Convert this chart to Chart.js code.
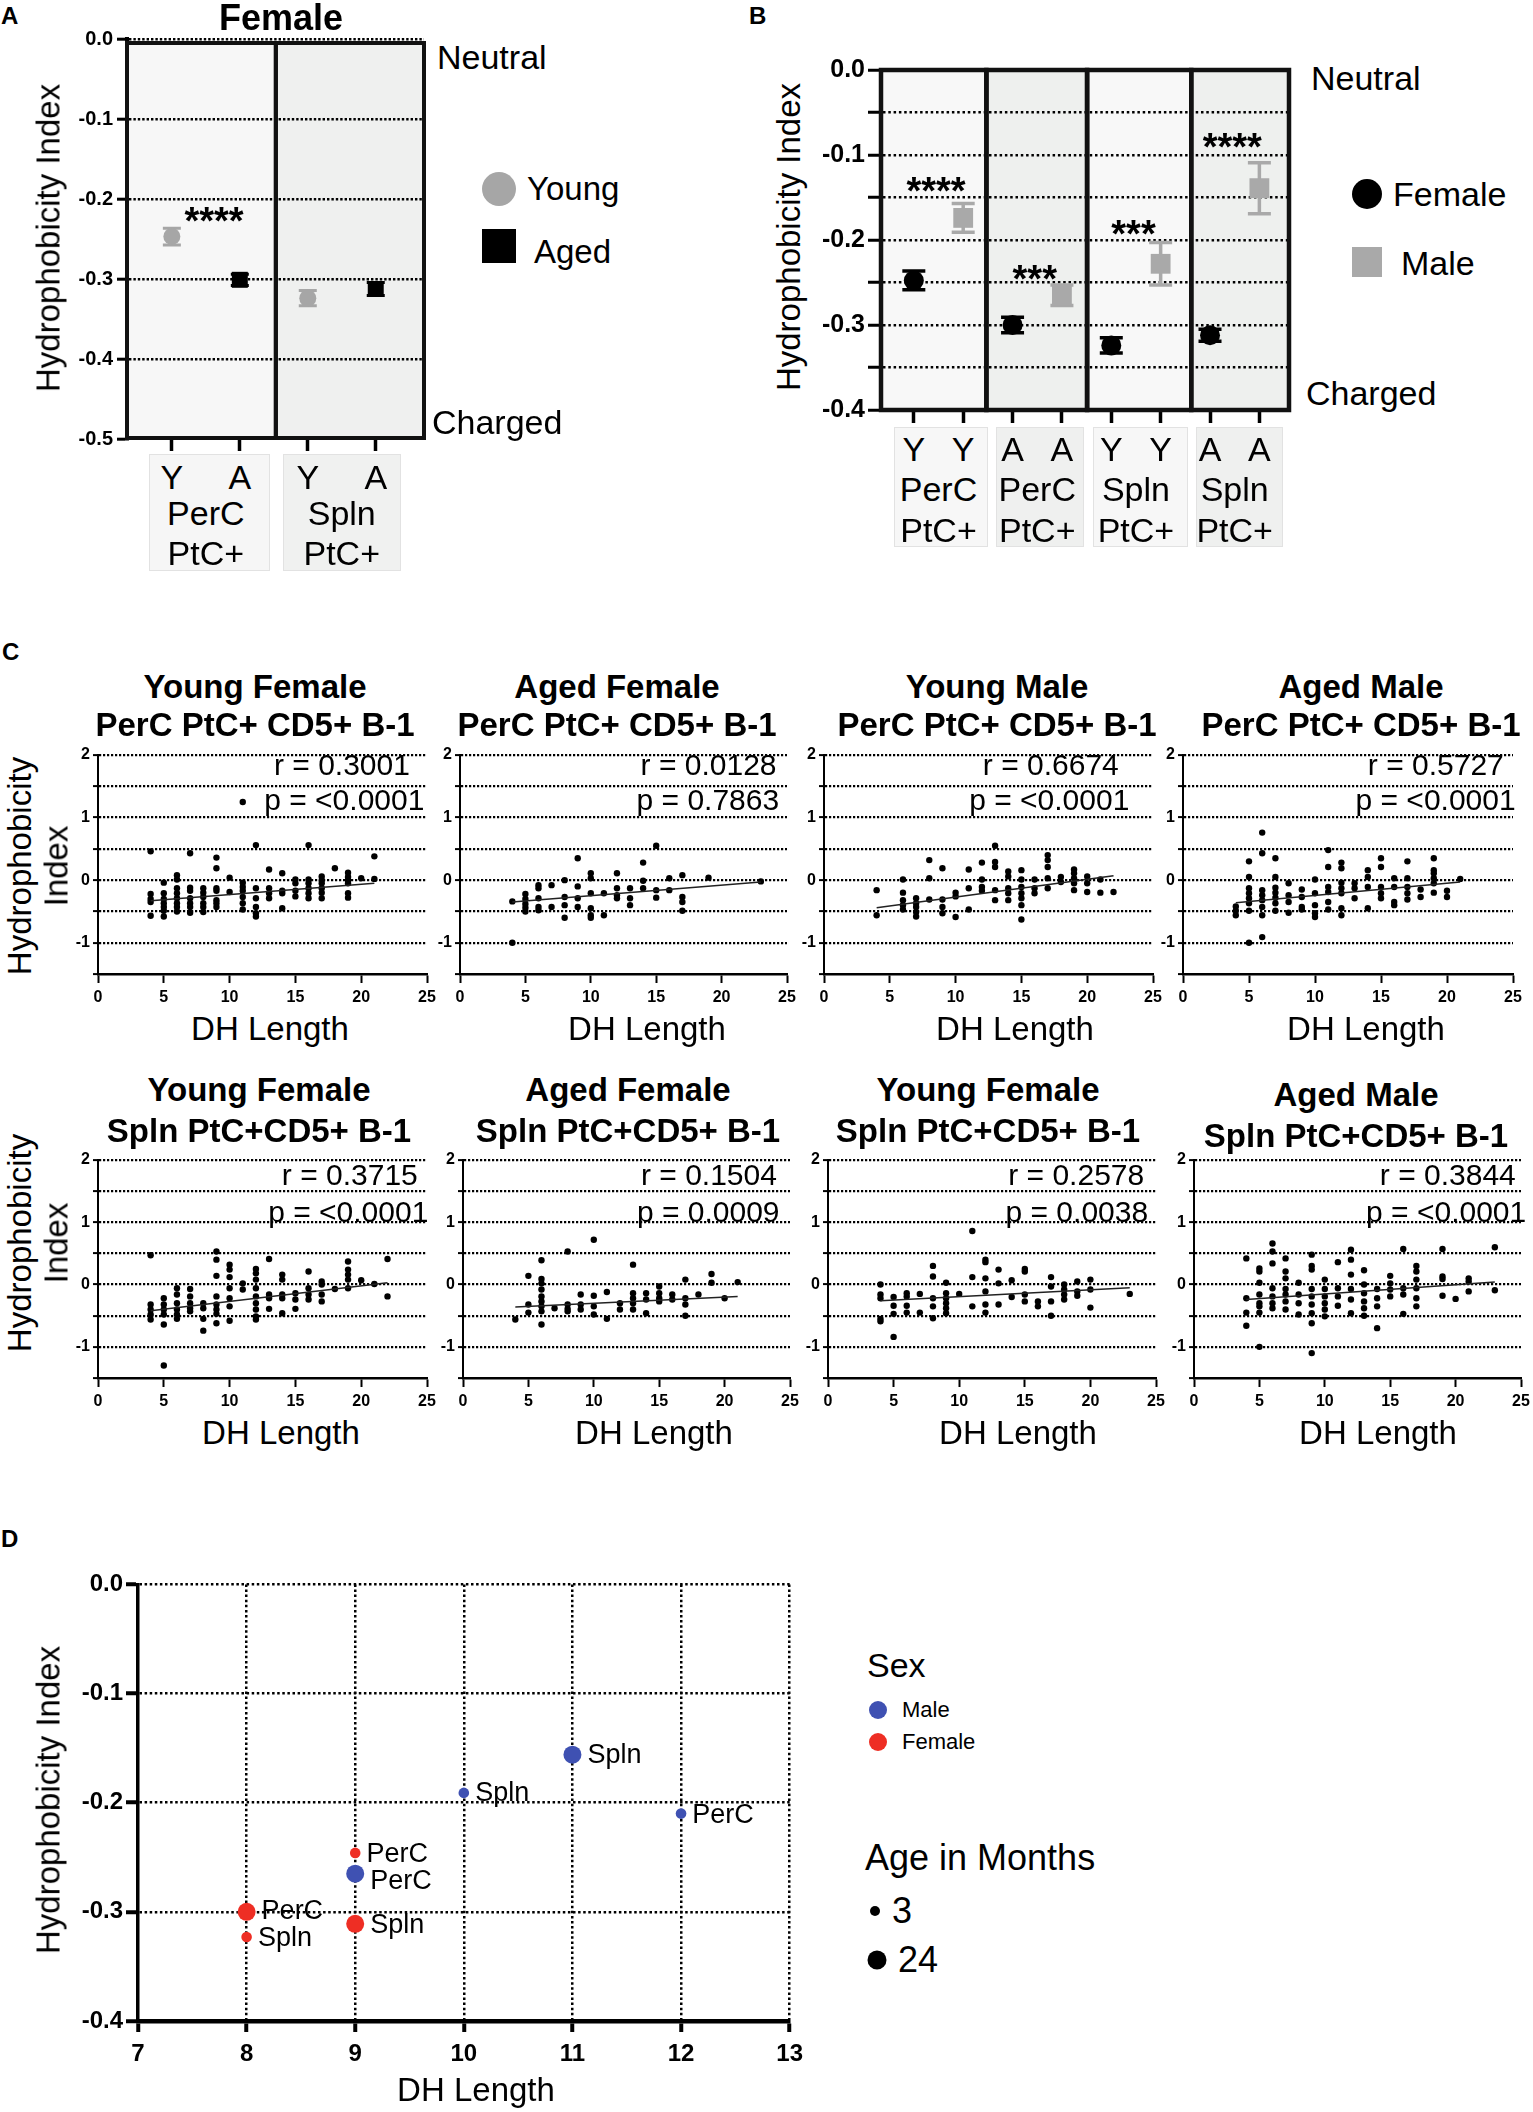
<!DOCTYPE html>
<html>
<head>
<meta charset="utf-8">
<title>Hydrophobicity index of DH regions</title>
<script src="https://cdn.jsdelivr.net/npm/chart.js@4.4.1/dist/chart.umd.min.js"></script>
<style>
  html, body { margin: 0; padding: 0; background: #fff; }
  #fig { position: relative; width: 1533px; height: 2112px; overflow: hidden;
         font-family: 'Liberation Sans', Arial, Helvetica, sans-serif; color: #000; }
  #fig canvas { position: absolute; }
  .t { position: absolute; white-space: nowrap; line-height: 1; }
  .lbox { position: absolute; box-sizing: border-box; border: 1px solid #e2e2e2; }
  .mark { position: absolute; transform: translate(-50%, -50%); }
</style>
</head>
<body>
<div id="fig"></div>
<script>
// ---------- Panel A: female, young vs aged ----------
const aTissues = ['PerC', 'Spln'];
const aYoung = [-0.247, -0.324];
const aYoungErr = [0.0105, 0.0095];
const aAged = [-0.301, -0.3125];
const aAgedErr = [0.007, 0.008];
const aStars = ['****'];
const aStarLevel = [-0.217];

// ---------- Panel B: female vs male ----------
const bAges = ['Y', 'A', 'Y', 'A'];
const bTissues = ['PerC', 'PerC', 'Spln', 'Spln'];
const bFemale = [-0.2476, -0.300, -0.324, -0.312];
const bFemaleErr = [0.011, 0.009, 0.009, 0.007];
const bMale = [-0.174, -0.265, -0.228, -0.139];
const bMaleErr = [0.017, 0.012, 0.025, 0.030];
const bStars = ['****', '***', '***', '****'];
const bStarLevel = [-0.133, -0.236, -0.184, -0.081];

// ---------- Panel C: hydrophobicity vs DH length, listed by DH length ----------
const cTitles = [
  ['Young Female', 'PerC PtC+ CD5+ B-1'], ['Aged Female', 'PerC PtC+ CD5+ B-1'],
  ['Young Male', 'PerC PtC+ CD5+ B-1'], ['Aged Male', 'PerC PtC+ CD5+ B-1'],
  ['Young Female', 'Spln PtC+CD5+ B-1'], ['Aged Female', 'Spln PtC+CD5+ B-1'],
  ['Young Female', 'Spln PtC+CD5+ B-1'], ['Aged Male', 'Spln PtC+CD5+ B-1']
];
const cR = ['0.3001', '0.0128', '0.6674', '0.5727', '0.3715', '0.1504', '0.2578', '0.3844'];
const cP = ['<0.0001', '0.7863', '<0.0001', '<0.0001', '<0.0001', '0.0009', '0.0038', '<0.0001'];
const cFitX = [[4, 21], [4, 23], [4, 22], [4, 21], [4, 22], [4, 21], [4, 23], [4, 23]];
const cFitY = [[-0.33, -0.05], [-0.35, -0.03], [-0.44, 0.07], [-0.36, -0.03],
               [-0.42, 0.03], [-0.36, -0.19], [-0.26, -0.05], [-0.24, 0.04]];

const youngFemalePerC = {
  4: [0.46, -0.22, -0.30, -0.35, -0.57], 5: [-0.04, -0.21, -0.30, -0.37, -0.43, -0.49, -0.58],
  6: [0.08, 0.01, -0.13, -0.21, -0.29, -0.37, -0.43, -0.50], 7: [0.43, -0.12, -0.17, -0.29, -0.37, -0.43, -0.52],
  8: [-0.13, -0.20, -0.27, -0.37, -0.43, -0.51], 9: [0.36, 0.19, -0.13, -0.17, -0.32, -0.37, -0.43],
  10: [0.04, -0.19], 11: [1.25, -0.04, -0.11, -0.17, -0.27, -0.37, -0.47],
  12: [0.56, -0.13, -0.29, -0.43, -0.53, -0.58], 13: [0.17, -0.13, -0.21, -0.29],
  14: [0.11, -0.17, -0.21, -0.45], 15: [0.01, -0.05, -0.17, -0.26],
  16: [0.56, 0.01, -0.05, -0.13, -0.21, -0.29], 17: [0.06, 0.0, -0.05, -0.13, -0.20, -0.29],
  18: [0.19], 19: [0.12, 0.05, 0.0, -0.05, -0.21, -0.28], 20: [0.03], 21: [0.38, 0.02]
};
const agedFemalePerC = {
  4: [-0.34, -1.0], 5: [-0.22, -0.30, -0.38, -0.44, -0.50], 6: [-0.08, -0.13, -0.29, -0.43, -0.48],
  7: [-0.08, -0.43], 8: [0.0, -0.27, -0.40, -0.60], 9: [0.35, -0.10, -0.29, -0.43],
  10: [0.11, 0.03, -0.21, -0.45, -0.56, -0.60], 11: [-0.21, -0.56], 12: [0.11, -0.13, -0.24, -0.29],
  13: [-0.13, -0.29, -0.40], 14: [0.28, -0.01, -0.13], 15: [0.55, -0.16, -0.28], 16: [0.03, -0.16],
  17: [0.08, -0.27, -0.35, -0.49], 19: [0.04], 23: [-0.02]
};
const youngMalePerC = {
  4: [-0.16, -0.56], 6: [0.01, -0.20, -0.32, -0.40, -0.47], 7: [-0.29, -0.37, -0.43, -0.51, -0.58],
  8: [0.32, 0.03, -0.31], 9: [0.19, -0.31, -0.43, -0.53], 10: [-0.20, -0.26, -0.59],
  11: [0.17, -0.13, -0.47], 12: [0.28, 0.01, -0.11, -0.17], 13: [0.55, 0.29, 0.21, -0.16, -0.32],
  14: [0.14, 0.06, -0.13, -0.21, -0.32], 15: [0.16, 0.01, -0.11, -0.21, -0.29, -0.40, -0.63],
  16: [0.01, -0.13, -0.21], 17: [0.40, 0.32, 0.21, 0.03, -0.13], 18: [0.05, -0.03],
  19: [0.17, 0.11, 0.03, -0.05, -0.16], 20: [0.06, -0.05, -0.19], 21: [0.01, -0.20], 22: [-0.19]
};
const agedMalePerC = {
  4: [-0.42, -0.49, -0.56], 5: [0.30, 0.05, -0.13, -0.21, -0.29, -0.37, -0.49, -1.0],
  6: [0.76, 0.43, -0.16, -0.24, -0.32, -0.43, -0.56, -0.91], 7: [0.35, 0.05, -0.12, -0.20, -0.28, -0.37, -0.49],
  8: [-0.05, -0.24, -0.35, -0.52], 9: [-0.15, -0.27, -0.43, -0.47], 10: [0.01, -0.21, -0.40, -0.53, -0.59],
  11: [0.48, 0.21, -0.11, -0.19, -0.35, -0.47], 12: [0.28, 0.19, -0.04, -0.13, -0.21, -0.45, -0.56],
  13: [-0.05, -0.13, -0.29], 14: [0.16, 0.05, -0.11, -0.45], 15: [0.35, 0.21, -0.11, -0.21, -0.29],
  16: [0.03, -0.11, -0.35, -0.40], 17: [0.30, 0.03, -0.11, -0.21, -0.31], 18: [-0.15, -0.27],
  19: [0.35, 0.16, 0.11, 0.03, -0.05, -0.20], 20: [-0.17, -0.27], 21: [0.02]
};
const youngFemaleSpln = {
  4: [0.47, -0.32, -0.40, -0.48, -0.56], 5: [-0.22, -0.32, -0.40, -0.48, -0.64, -1.30],
  6: [-0.06, -0.16, -0.30, -0.40, -0.48, -0.55], 7: [-0.07, -0.19, -0.30, -0.38, -0.43],
  8: [-0.30, -0.38, -0.55, -0.74], 9: [0.53, 0.40, 0.14, -0.19, -0.32, -0.40, -0.47, -0.62],
  10: [0.32, 0.24, 0.12, -0.06, -0.22, -0.35, -0.58], 11: [0.02, -0.08],
  12: [0.25, 0.18, 0.08, -0.06, -0.19, -0.30, -0.40, -0.51, -0.56], 13: [0.41, -0.16, -0.22, -0.39],
  14: [0.16, 0.08, -0.16, -0.22, -0.46], 15: [-0.14, -0.24, -0.39], 16: [0.21, -0.06, -0.16, -0.24],
  17: [0.05, 0.0, -0.16, -0.27], 18: [-0.07], 19: [0.37, 0.24, 0.16, 0.08, -0.06],
  20: [0.07], 21: [0.01], 22: [0.41, -0.19]
};
const agedFemaleSpln = {
  4: [-0.56], 5: [0.14, -0.32, -0.45], 6: [0.39, 0.09, 0.02, -0.08, -0.19, -0.27, -0.35, -0.43, -0.64],
  7: [-0.38], 8: [0.53, -0.32, -0.39, -0.43], 9: [-0.16, -0.32, -0.40], 10: [0.72, -0.18, -0.35, -0.48],
  11: [-0.12, -0.55], 12: [-0.30, -0.40], 13: [0.32, -0.14, -0.22, -0.30, -0.40],
  14: [-0.14, -0.24, -0.46], 15: [-0.03, -0.14, -0.22, -0.27], 16: [-0.16, -0.24],
  17: [0.08, -0.22, -0.32, -0.50], 18: [-0.16], 19: [0.17, 0.03], 20: [-0.22], 21: [0.04]
};
const youngFemaleSpln2 = {
  4: [0.0, -0.16, -0.22, -0.55, -0.59], 5: [-0.20, -0.34, -0.47, -0.84], 6: [-0.14, -0.19, -0.34, -0.45],
  7: [-0.15, -0.45], 8: [0.30, 0.13, -0.22, -0.35, -0.54], 9: [0.03, -0.14, -0.22, -0.30, -0.38, -0.46],
  10: [-0.15], 11: [0.86, 0.12, -0.35], 12: [0.40, 0.36, 0.10, -0.11, -0.32, -0.45],
  13: [0.24, 0.02, -0.32], 14: [0.07, -0.20], 15: [0.25, 0.21, -0.16, -0.27], 16: [-0.27, -0.35],
  17: [0.12, -0.03, -0.27, -0.50], 18: [0.0, -0.08, -0.16, -0.24], 19: [0.05, -0.11, -0.18],
  20: [0.08, -0.08, -0.37], 23: [-0.15]
};
const agedMaleSpln = {
  4: [0.42, -0.22, -0.45, -0.66], 5: [0.26, 0.21, 0.03, -0.16, -0.30, -0.35, -0.45, -1.0],
  6: [0.66, 0.53, 0.34, -0.06, -0.19, -0.30, -0.38], 7: [0.42, 0.21, 0.10, -0.07, -0.16, -0.27, -0.40],
  8: [0.03, -0.16, -0.30, -0.48], 9: [0.48, 0.30, 0.24, -0.07, -0.19, -0.32, -0.46, -0.62, -1.10],
  10: [0.08, -0.07, -0.19, -0.30, -0.40, -0.51], 11: [0.36, -0.06, -0.19, -0.34],
  12: [0.56, 0.40, 0.16, -0.07, -0.24, -0.46], 13: [0.23, 0.0, -0.14, -0.27, -0.38, -0.50],
  14: [-0.07, -0.22, -0.35, -0.70], 15: [0.14, 0.02, -0.08, -0.19], 16: [0.57, -0.06, -0.16, -0.47],
  17: [0.30, 0.21, 0.08, -0.06, -0.22, -0.35], 19: [0.57, 0.13, 0.09, -0.18], 20: [-0.23],
  21: [0.10, 0.05, -0.11], 23: [0.60, -0.09]
};
const cPoints = [youngFemalePerC, agedFemalePerC, youngMalePerC, agedMalePerC,
                 youngFemaleSpln, agedFemaleSpln, youngFemaleSpln2, agedMaleSpln];

// ---------- Panel D: mean DH length vs mean hydrophobicity ----------
const dLength = [11, 10, 12, 9, 9, 8, 8, 9];
const dIndex = [-0.156, -0.191, -0.21, -0.265, -0.246, -0.300, -0.323, -0.311];
const dSex = ['Male', 'Male', 'Male', 'Male', 'Female', 'Female', 'Female', 'Female'];
const dAge = [24, 3, 3, 24, 3, 24, 3, 24];
const dTissue = ['Spln', 'Spln', 'PerC', 'PerC', 'PerC', 'PerC', 'Spln', 'Spln'];

// ---------- layout ----------
const FONT = "'Liberation Sans', Arial, Helvetica, sans-serif";
const GRAY = '#a6a6a6';
const MALE_BLUE = '#3f51b2';
const FEMALE_RED = '#ee2e24';
const cAreas = [
  [98, 755, 427, 974], [460, 755, 787, 974], [824, 755, 1153, 974], [1183, 755, 1513, 974],
  [98, 1160, 427, 1378], [463, 1160, 790, 1378], [828, 1160, 1156, 1378], [1194, 1160, 1521, 1378]
];
const cTitleX = [255, 617, 997, 1361, 259, 628, 988, 1356];
const cXLabelX = [270, 647, 1015, 1366, 281, 654, 1018, 1378];
const cTextPos = [
  [[23.7, 1.82], [24.8, 1.25]], [[24.2, 1.82], [24.4, 1.25]], [[22.4, 1.82], [23.2, 1.25]], [[24.3, 1.82], [25.2, 1.25]],
  [[24.3, 1.73], [25.1, 1.13]], [[24.0, 1.73], [24.2, 1.13]], [[24.1, 1.73], [24.4, 1.13]], [[24.6, 1.73], [25.4, 1.13]]
];
const dLabelNudge = [1, 1, 2, 8, 2, 0, 2, 2];

Chart.defaults.font.family = FONT;
Chart.defaults.color = '#000';
Chart.defaults.animation = false;
Chart.defaults.plugins.legend.display = false;
Chart.defaults.plugins.tooltip.enabled = false;

const fig = document.getElementById('fig');

function label(text, x, y, size, opt = {}) {
  const d = document.createElement('div');
  d.className = 't';
  d.textContent = text;
  d.style.left = x + 'px';
  d.style.top = y + 'px';
  d.style.fontSize = size + 'px';
  if (opt.bold) d.style.fontWeight = 'bold';
  const ax = opt.align === 'left' ? '0' : opt.align === 'right' ? '-100%' : '-50%';
  d.style.transform = `translate(${ax}, -50%)` + (opt.rotate ? ' rotate(-90deg)' : '');
  fig.appendChild(d);
  return d;
}

function marker(x, y, size, color, round) {
  const d = document.createElement('div');
  d.className = 'mark';
  d.style.left = x + 'px';
  d.style.top = y + 'px';
  d.style.width = size + 'px';
  d.style.height = size + 'px';
  d.style.background = color;
  if (round) d.style.borderRadius = '50%';
  fig.appendChild(d);
}

function labelBox(left, right, top, bottom, color) {
  const d = document.createElement('div');
  d.className = 'lbox';
  d.style.left = left + 'px';
  d.style.top = top + 'px';
  d.style.width = (right - left) + 'px';
  d.style.height = (bottom - top) + 'px';
  d.style.background = color;
  fig.appendChild(d);
}

// area = chart area in page pixels, margin = room around it for ticks
function makeChart(area, margin, config) {
  const [l, t, r, b] = area;
  const [ml, mt, mr, mb] = margin;
  const w = r - l + ml + mr, h = b - t + mt + mb;
  const cv = document.createElement('canvas');
  cv.width = w;
  cv.height = h;
  cv.style.left = (l - ml) + 'px';
  cv.style.top = (t - mt) + 'px';
  cv.style.width = w + 'px';
  cv.style.height = h + 'px';
  fig.appendChild(cv);
  config.options.responsive = false;
  config.options.layout = { padding: { left: 0, top: mt, right: mr, bottom: 0 } };
  config.options.scales.x.afterFit = s => { s.height = mb; };
  config.options.scales.y.afterFit = s => { s.width = ml; };
  const chart = new Chart(cv, config);
  chart.$left = l - ml;
  chart.$top = t - mt;
  return chart;
}

const pageX = (chart, v) => chart.$left + chart.scales.x.getPixelForValue(v);
const pageY = (chart, v) => chart.$top + chart.scales.y.getPixelForValue(v);

function catAxis(min, max, n, tickLen) {
  return {
    type: 'linear', min, max,
    afterBuildTicks: s => { s.ticks = Array.from({ length: n }, (_, i) => ({ value: i })); },
    ticks: { display: false },
    grid: { drawOnChartArea: false, drawTicks: true, tickLength: tickLen, tickWidth: 3.5, tickColor: '#000', color: '#000' },
    border: { display: false }
  };
}

// background panels and thick outlines behind the group means
function boxEdges(chart, o) {
  const { chartArea: ca, scales: { x, y } } = chart;
  return {
    xs: [ca.left, ...o.dividers.map(v => x.getPixelForValue(v)), ca.right],
    top: y.getPixelForValue(0) + o.inset,
    bottom: y.getPixelForValue(o.bottomValue) - o.lift
  };
}
const panelBoxes = {
  id: 'panelBoxes',
  beforeDraw(chart, args, o) {
    const { xs, top, bottom } = boxEdges(chart, o);
    const ctx = chart.ctx;
    ctx.save();
    for (let i = 0; i < xs.length - 1; i++) {
      ctx.fillStyle = o.fills[i % o.fills.length];
      ctx.fillRect(xs[i], top, xs[i + 1] - xs[i], bottom - top);
    }
    ctx.restore();
  },
  beforeDatasetsDraw(chart, args, o) {
    const { xs, top, bottom } = boxEdges(chart, o);
    const ctx = chart.ctx;
    ctx.save();
    ctx.strokeStyle = '#111';
    ctx.lineWidth = o.line;
    for (let i = 0; i < xs.length - 1; i++) {
      ctx.strokeRect(xs[i], top, xs[i + 1] - xs[i], bottom - top);
    }
    ctx.restore();
  }
};

const errorBars = {
  id: 'errorBars',
  beforeDatasetsDraw(chart, args, o) {
    const { ctx, scales: { x, y } } = chart;
    ctx.save();
    ctx.lineWidth = o.width;
    chart.data.datasets.forEach(ds => {
      if (!ds.errors) return;
      ctx.strokeStyle = ds.errColor;
      ds.data.forEach((p, j) => {
        const px = x.getPixelForValue(p.x);
        const top = y.getPixelForValue(p.y + ds.errors[j]);
        const bot = y.getPixelForValue(p.y - ds.errors[j]);
        ctx.beginPath();
        ctx.moveTo(px, top); ctx.lineTo(px, bot);
        ctx.moveTo(px - o.cap / 2, top); ctx.lineTo(px + o.cap / 2, top);
        ctx.moveTo(px - o.cap / 2, bot); ctx.lineTo(px + o.cap / 2, bot);
        ctx.stroke();
      });
    });
    ctx.restore();
  }
};

const corrText = {
  id: 'corrText',
  afterDatasetsDraw(chart, args, o) {
    const { ctx, scales: { x, y } } = chart;
    ctx.save();
    ctx.font = `30px ${FONT}`;
    ctx.fillStyle = '#000';
    ctx.textAlign = 'right';
    ctx.textBaseline = 'middle';
    o.lines.forEach(l => ctx.fillText(l.text, x.getPixelForValue(l.x), y.getPixelForValue(l.y)));
    ctx.restore();
  }
};

const pointNames = {
  id: 'pointNames',
  afterDatasetsDraw(chart) {
    const ctx = chart.ctx;
    ctx.save();
    ctx.font = `27px ${FONT}`;
    ctx.fillStyle = '#000';
    ctx.textAlign = 'left';
    ctx.textBaseline = 'middle';
    chart.data.datasets.forEach((ds, i) => {
      chart.getDatasetMeta(i).data.forEach((el, j) => {
        const p = ds.data[j];
        ctx.fillText(p.tissue, el.x + el.options.radius + 6, el.y + p.nudge);
      });
    });
    ctx.restore();
  }
};

const clear = 'rgba(0,0,0,0)';
const near = (a, b) => Math.abs(a - b) < 1e-6;

// ================= Panel A =================
const chartA = makeChart([127, 39, 424, 439], [64, 16, 12, 20], {
  type: 'scatter',
  data: {
    datasets: [
      { data: aYoung.map((v, i) => ({ x: 2 * i, y: v })), errors: aYoungErr, errColor: GRAY,
        backgroundColor: GRAY, pointStyle: 'circle', pointRadius: 8.5, borderWidth: 0 },
      { data: aAged.map((v, i) => ({ x: 2 * i + 1, y: v })), errors: aAgedErr, errColor: '#000',
        backgroundColor: '#000', pointStyle: 'rect', pointRadius: 11.3, borderWidth: 0 }
    ]
  },
  options: {
    scales: {
      x: catAxis(-0.66, 3.71, 4, 12),
      y: {
        min: -0.5, max: 0,
        ticks: { stepSize: 0.1, callback: v => v.toFixed(1), font: { size: 20, weight: 'bold' }, padding: 4 },
        grid: { color: c => near(c.tick.value, -0.5) ? clear : '#000', lineWidth: 2.4,
                tickLength: 10, tickWidth: 3, tickColor: '#000' },
        border: { display: true, width: 4, color: '#000', dash: [2.4, 2] }
      }
    },
    plugins: {
      panelBoxes: { inset: 4, lift: 1, bottomValue: -0.5, dividers: [1.53], fills: ['#f7f7f7', '#eff0ef'], line: 4 },
      errorBars: { cap: 18, width: 3 }
    }
  },
  plugins: [panelBoxes, errorBars]
});

label('A', 1, 16, 24, { bold: true, align: 'left' });
label('Female', 281, 18, 36, { bold: true });
label('Hydrophobicity Index', 48, 238, 33, { rotate: true });
label('Neutral', 437, 57, 34, { align: 'left' });
label('Charged', 432, 422, 34, { align: 'left' });
marker(499, 189, 34, GRAY, true);
label('Young', 527, 188, 33, { align: 'left' });
marker(499, 246, 34, '#000', false);
label('Aged', 534, 251, 33, { align: 'left' });
aStars.forEach((s, i) => label(s, pageX(chartA, 2 * i + 0.62), pageY(chartA, aStarLevel[i]) + 8, 38, { bold: true }));

const aBoxes = [[149, 270], [283, 401]];
aTissues.forEach((tissue, i) => {
  labelBox(aBoxes[i][0], aBoxes[i][1], 454, 571, i % 2 ? '#f0f1f0' : '#f6f6f6');
  label('Y', pageX(chartA, 2 * i), 477, 34);
  label('A', pageX(chartA, 2 * i + 1), 477, 34);
  label(tissue, pageX(chartA, 2 * i + 0.5), 513, 34);
  label('PtC+', pageX(chartA, 2 * i + 0.5), 553, 34);
});

// ================= Panel B =================
const chartB = makeChart([881, 68, 1291, 410], [70, 16, 12, 20], {
  type: 'scatter',
  data: {
    datasets: [
      { data: bFemale.map((v, i) => ({ x: 2 * i, y: v })), errors: bFemaleErr, errColor: '#000',
        backgroundColor: '#000', pointStyle: 'circle', pointRadius: 10, borderWidth: 0 },
      { data: bMale.map((v, i) => ({ x: 2 * i + 1, y: v })), errors: bMaleErr, errColor: '#a9a9a9',
        backgroundColor: '#a9a9a9', pointStyle: 'rect', pointRadius: 14, borderWidth: 0 }
    ]
  },
  options: {
    scales: {
      x: catAxis(-0.665, 7.6, 8, 13),
      y: {
        min: -0.4, max: 0,
        ticks: { stepSize: 0.05, callback: v => (Math.round(v * 20) % 2 === 0 ? v.toFixed(1) : ''),
                 font: { size: 25, weight: 'bold' }, padding: 3 },
        grid: { color: c => (near(c.tick.value, 0) || near(c.tick.value, -0.4)) ? clear : '#000', lineWidth: 2.5,
                tickLength: 13, tickWidth: 3, tickColor: '#000' },
        border: { display: true, width: 4, color: '#000', dash: [2.5, 2.8] }
      }
    },
    plugins: {
      panelBoxes: { inset: 0, lift: 0, bottomValue: -0.4, dividers: [1.47, 3.51, 5.62], fills: ['#f8f8f8', '#eef0ee'], line: 4.5 },
      errorBars: { cap: 23, width: 3.5 }
    }
  },
  plugins: [panelBoxes, errorBars]
});

label('B', 749, 16, 24, { bold: true, align: 'left' });
label('Hydrophobicity Index', 788, 237, 33, { rotate: true });
label('Neutral', 1311, 78, 34, { align: 'left' });
label('Charged', 1306, 393, 34, { align: 'left' });
marker(1367, 194, 30, '#000', true);
label('Female', 1393, 194, 34, { align: 'left' });
marker(1367, 262, 30, '#a9a9a9', false);
label('Male', 1401, 263, 34, { align: 'left' });
bStars.forEach((s, i) => label(s, pageX(chartB, 2 * i + 0.45), pageY(chartB, bStarLevel[i]) + 8, 38, { bold: true }));

const bBoxes = [[894, 988], [996, 1084], [1093, 1188], [1196, 1283]];
bTissues.forEach((tissue, i) => {
  labelBox(bBoxes[i][0], bBoxes[i][1], 427, 547, i % 2 ? '#eff0ef' : '#f7f7f7');
  label(bAges[i], pageX(chartB, 2 * i), 449, 34);
  label(bAges[i], pageX(chartB, 2 * i + 1), 449, 34);
  label(tissue, pageX(chartB, 2 * i + 0.5), 489, 34);
  label('PtC+', pageX(chartB, 2 * i + 0.5), 530, 34);
});

// ================= Panel C =================
const columns = obj => Object.entries(obj).flatMap(([len, ys]) => ys.map(y => ({ x: +len, y })));

cPoints.forEach((pts, i) => {
  const row = i < 4 ? 0 : 1;
  makeChart(cAreas[i], [34, 16, 30, 34], {
    type: 'scatter',
    data: {
      datasets: [
        { type: 'line', data: cFitX[i].map((x, k) => ({ x, y: cFitY[i][k] })), borderColor: '#222',
          borderWidth: 1.5, pointRadius: 0, fill: false },
        { data: columns(pts), backgroundColor: '#000', pointRadius: 3.2, borderWidth: 0 }
      ]
    },
    options: {
      scales: {
        x: {
          min: 0, max: 25,
          ticks: { stepSize: 5, font: { size: 16, weight: 'bold' }, padding: 5 },
          grid: { drawOnChartArea: false, tickLength: 9, tickWidth: 2, tickColor: '#000' },
          border: { width: 2.5, color: '#000' }
        },
        y: {
          min: -1.5, max: 2,
          ticks: { stepSize: 0.5, callback: v => (Number.isInteger(v) && v > -1.5 ? String(v) : ''),
                   font: { size: 16, weight: 'bold' }, padding: 3 },
          grid: { color: c => c.tick.value <= -1.5 ? clear : '#000', lineWidth: 2.2,
                  tickLength: 5, tickWidth: 2, tickColor: '#000' },
          border: { width: 2, color: '#000', dash: [2.2, 1.8] }
        }
      },
      plugins: {
        corrText: { lines: [
          { text: 'r = ' + cR[i], x: cTextPos[i][0][0], y: cTextPos[i][0][1] },
          { text: 'p = ' + cP[i], x: cTextPos[i][1][0], y: cTextPos[i][1][1] }
        ] }
      }
    },
    plugins: [corrText]
  });
  const ty = row === 0 ? [686, 724] : (i === 7 ? [1094, 1135] : [1089, 1130]);
  label(cTitles[i][0], cTitleX[i], ty[0], 33, { bold: true });
  label(cTitles[i][1], cTitleX[i], ty[1], 33, { bold: true });
  label('DH Length', cXLabelX[i], row === 0 ? 1028 : 1432, 33);
});

label('C', 2, 652, 24, { bold: true, align: 'left' });
label('Hydrophobicity', 19, 866, 33, { rotate: true });
label('Index', 56, 866, 33, { rotate: true });
label('Hydrophobicity', 19, 1243, 33, { rotate: true });
label('Index', 56, 1243, 33, { rotate: true });

// ================= Panel D =================
const dPoints = sex => dLength
  .map((len, i) => ({ x: len, y: dIndex[i], age: dAge[i], tissue: dTissue[i], nudge: dLabelNudge[i], sex: dSex[i] }))
  .filter(p => p.sex === sex);

makeChart([138, 1583, 797, 2021], [74, 16, 14, 55], {
  type: 'scatter',
  data: {
    datasets: [
      { label: 'Male', data: dPoints('Male'), backgroundColor: MALE_BLUE, borderWidth: 0,
        pointRadius: c => (c.raw && c.raw.age === 24 ? 9 : 5.3) },
      { label: 'Female', data: dPoints('Female'), backgroundColor: FEMALE_RED, borderWidth: 0,
        pointRadius: c => (c.raw && c.raw.age === 24 ? 9 : 5.3) }
    ]
  },
  options: {
    scales: {
      x: {
        min: 7, max: 13,
        ticks: { stepSize: 1, font: { size: 24, weight: 'bold' }, padding: 8 },
        grid: { color: c => c.tick.value === 7 ? clear : '#000', lineWidth: 2.5,
                tickLength: 11, tickWidth: 4, tickColor: '#000' },
        border: { width: 4.5, color: '#000', dash: [2.5, 2.6] }
      },
      y: {
        min: -0.4, max: 0,
        ticks: { stepSize: 0.1, callback: v => v.toFixed(1), font: { size: 24, weight: 'bold' }, padding: 3 },
        grid: { color: c => near(c.tick.value, -0.4) ? clear : '#000', lineWidth: 2.5,
                tickLength: 12, tickWidth: 4, tickColor: '#000' },
        border: { width: 3.5, color: '#000', dash: [2.5, 2.6] }
      }
    }
  },
  plugins: [pointNames]
});

label('D', 1, 1539, 24, { bold: true, align: 'left' });
label('Hydrophobicity Index', 48, 1800, 33, { rotate: true });
label('DH Length', 476, 2089, 33);
label('Sex', 867, 1665, 34, { align: 'left' });
marker(878, 1710, 18, MALE_BLUE, true);
label('Male', 902, 1710, 22, { align: 'left' });
marker(878, 1742, 18, FEMALE_RED, true);
label('Female', 902, 1742, 22, { align: 'left' });
label('Age in Months', 865, 1858, 36, { align: 'left' });
marker(875, 1911, 10, '#000', true);
label('3', 892, 1911, 36, { align: 'left' });
marker(877, 1960, 19, '#000', true);
label('24', 898, 1960, 36, { align: 'left' });
</script>
</body>
</html>
